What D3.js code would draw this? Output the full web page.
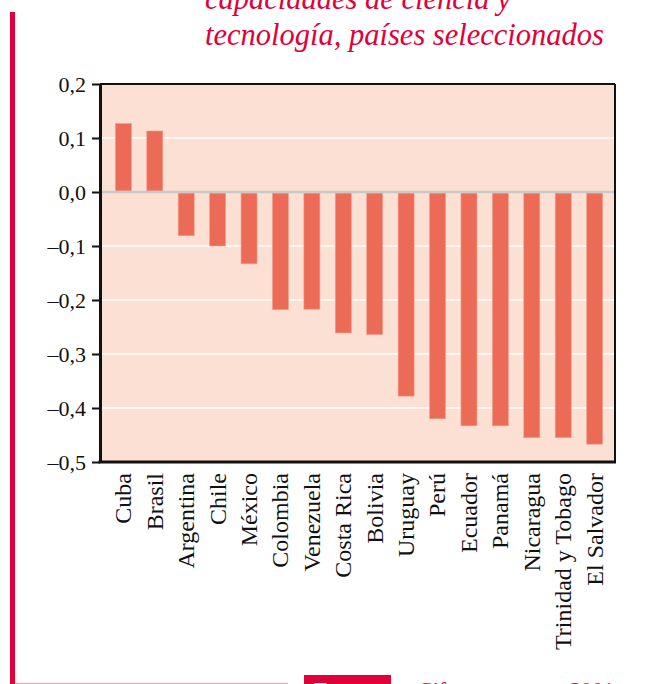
<!DOCTYPE html>
<html><head><meta charset="utf-8">
<script src="https://cdn.jsdelivr.net/npm/d3@7"></script>
<style>body{margin:0;background:#fff}svg{display:block}</style>
</head><body>
<script>
const categories = ["Cuba","Brasil","Argentina","Chile","México","Colombia","Venezuela","Costa Rica","Bolivia","Uruguay","Perú","Ecuador","Panamá","Nicaragua","Trinidad y Tobago","El Salvador"];
const values = [0.127,0.113,-0.081,-0.100,-0.133,-0.218,-0.217,-0.261,-0.264,-0.378,-0.420,-0.433,-0.433,-0.455,-0.455,-0.467];
const yTicks = [0.2,0.1,0.0,-0.1,-0.2,-0.3,-0.4,-0.5];
const titleLines = ["capacidades de ciencia y","tecnología, países seleccionados"];

const W=646,H=684;
const svg=d3.select("body").append("svg").attr("width",W).attr("height",H);
const serif="'Liberation Serif','DejaVu Serif',serif";
const red="#e0003a";

// left red rule and bottom decorations
svg.append("rect").attr("x",10).attr("y",12).attr("width",5).attr("height",H-12).attr("fill",red);
svg.append("line").attr("x1",15).attr("x2",288).attr("y1",683.5).attr("y2",683.5).attr("stroke","#f2a9bb").attr("stroke-width",1.5);
svg.append("rect").attr("x",304).attr("y",675).attr("width",87).attr("height",12).attr("fill",red);
svg.append("text").attr("x",314).attr("y",697).attr("fill","#fff").attr("font-family",serif).attr("font-size",22).attr("font-weight","bold").text("Fuente:");
svg.append("text").attr("x",418).attr("y",697).attr("fill",red).attr("font-family",serif).attr("font-size",22).text("Cifras");
svg.append("text").attr("x",614).attr("y",697).attr("fill",red).attr("text-anchor","end").attr("font-family",serif).attr("font-size",22).text("2001");

// title
svg.append("g").selectAll("text").data(titleLines).join("text")
  .attr("x",205).attr("y",(d,i)=>9+i*36)
  .attr("font-family",serif).attr("font-style","italic").attr("font-size",30.5)
  .attr("fill",red).text(d=>d);

const L=100,R=615,T=84,B=462;
const y=d3.scaleLinear().domain([-0.5,0.2]).range([B,T]);
const x=d3.scaleBand().domain(categories).range([107.5,610.5]).paddingInner(0.49).paddingOuter(0.25);

svg.append("rect").attr("x",L).attr("y",T).attr("width",R-L).attr("height",B-T).attr("fill","#fce0d3");
// grid
svg.append("g").selectAll("line").data(yTicks.filter(d=>d!==0&&d!==0.2&&d!==-0.5)).join("line")
  .attr("x1",L).attr("x2",R).attr("y1",d=>y(d)).attr("y2",d=>y(d)).attr("stroke","#fff").attr("stroke-width",1.5);
// bars
svg.append("g").selectAll("rect").data(values).join("rect")
  .attr("x",(d,i)=>x(categories[i])).attr("width",x.bandwidth())
  .attr("y",d=>d>=0?y(d):y(0)+1).attr("height",d=>Math.abs(y(d)-y(0))-1)
  .attr("fill","#ec6b56").attr("stroke","#f3a08f").attr("stroke-width",0.6);
// zero line
svg.append("line").attr("x1",L).attr("x2",R).attr("y1",y(0)).attr("y2",y(0)).attr("stroke","#c9c9c9").attr("stroke-width",2.5);
// frame
svg.append("line").attr("x1",L).attr("x2",R).attr("y1",T).attr("y2",T).attr("stroke","#111").attr("stroke-width",2);
svg.append("line").attr("x1",R).attr("x2",R).attr("y1",T).attr("y2",B).attr("stroke","#111").attr("stroke-width",2);

// y axis
const fmt=d=>(d<0?"\u2013":"")+Math.abs(d).toFixed(1).replace(".",",");
const ya=svg.append("g").attr("transform",`translate(${L},0)`)
  .call(d3.axisLeft(y).tickValues(yTicks).tickSize(8).tickSizeOuter(0).tickFormat(fmt));
ya.select(".domain").attr("stroke","#111").attr("stroke-width",3);
ya.selectAll(".tick line").attr("stroke","#111").attr("stroke-width",2);
ya.selectAll(".tick text").attr("font-family",serif).attr("font-size",22).attr("fill","#111").attr("x",-14);

// x axis
const xa=svg.append("g").attr("transform",`translate(0,${B})`)
  .call(d3.axisBottom(x).tickSize(0).tickSizeOuter(0));
xa.select(".domain").remove();
svg.append("line").attr("x1",L-1.5).attr("x2",R+1).attr("y1",B).attr("y2",B).attr("stroke","#111").attr("stroke-width",3);
xa.selectAll(".tick text").attr("font-family",serif).attr("font-size",24).attr("fill","#111")
  .attr("transform","rotate(-90)").attr("text-anchor","end").attr("x",-11).attr("y",0).attr("dy","0.33em");
</script>
</body></html>
